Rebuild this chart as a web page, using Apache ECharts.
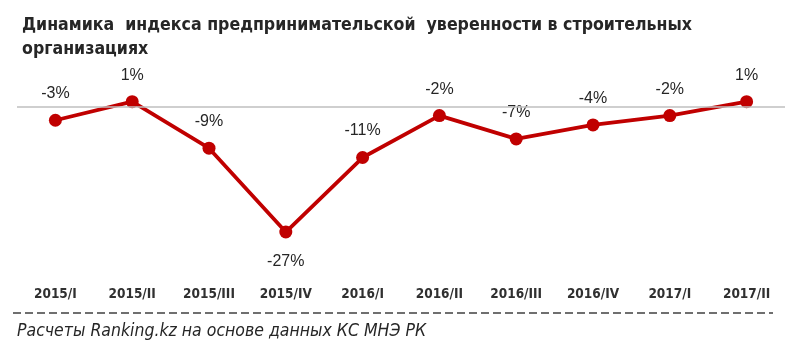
<!DOCTYPE html>
<html><head><meta charset="utf-8">
<script src="https://cdn.jsdelivr.net/npm/echarts@6/dist/echarts.min.js"></script>
<style>html,body{margin:0;padding:0;background:#fff}#c{width:800px;height:356px}</style>
</head><body><div id="c"></div>
<script>
const categories = ['2015/I','2015/II','2015/III','2015/IV','2016/I','2016/II','2016/III','2016/IV','2017/I','2017/II'];
const values = [-3, 1, -9, -27, -11, -2, -7, -4, -2, 1];
const titleText = 'Динамика  индекса предпринимательской  уверенности в строительных\nорганизациях';
const sourceText = 'Расчеты Ranking.kz на основе данных КС МНЭ РК';
const NARROW = '"Liberation Sans Narrow","Arial Narrow","DejaVu Sans Condensed",sans-serif';
const SANS = '"Liberation Sans",Arial,sans-serif';

const minVal = Math.min(...values);
const chart = echarts.init(document.getElementById('c'), null, {renderer:'canvas'});
chart.setOption({
  animation:false,
  title:{text:titleText,left:17,top:8,textStyle:{fontFamily:NARROW,fontWeight:'bold',fontSize:17.6,color:'#262626',lineHeight:24}},
  grid:{left:17,right:15,top:83,bottom:110},
  xAxis:{type:'category',data:categories,boundaryGap:true,
    axisLine:{show:false},axisTick:{show:false},
    axisLabel:{fontFamily:NARROW,fontWeight:'bold',fontSize:13.5,color:'#303030',margin:41}},
  yAxis:{type:'value',min:-30,max:5,show:false,splitLine:{show:false}},
  series:[{type:'line',
    data:values.map(v=>v===minVal?{value:v,label:{position:'bottom',distance:15}}:v),
    lineStyle:{color:'#C00000',width:3.8},
    itemStyle:{color:'#C00000'},
    symbol:'circle',symbolSize:13,
    label:{show:true,formatter:p=>p.value+'%',fontFamily:SANS,fontSize:16,color:'#262626',distance:12,position:'top'},
    markLine:{silent:true,symbol:'none',label:{show:false},lineStyle:{color:'#BFBFBF',width:1.5,type:'solid'},data:[{yAxis:0}]},
    z:3
  }],
  graphic:[
    {type:'line',shape:{x1:13,y1:313,x2:773,y2:313},style:{stroke:'#404040',lineWidth:1.5,lineDash:[8,4]}},
    {type:'text',left:17,top:322,style:{text:sourceText,fontFamily:NARROW,fontStyle:'italic',fontSize:17.5,fill:'#262626'}}
  ]
});
</script></body></html>
